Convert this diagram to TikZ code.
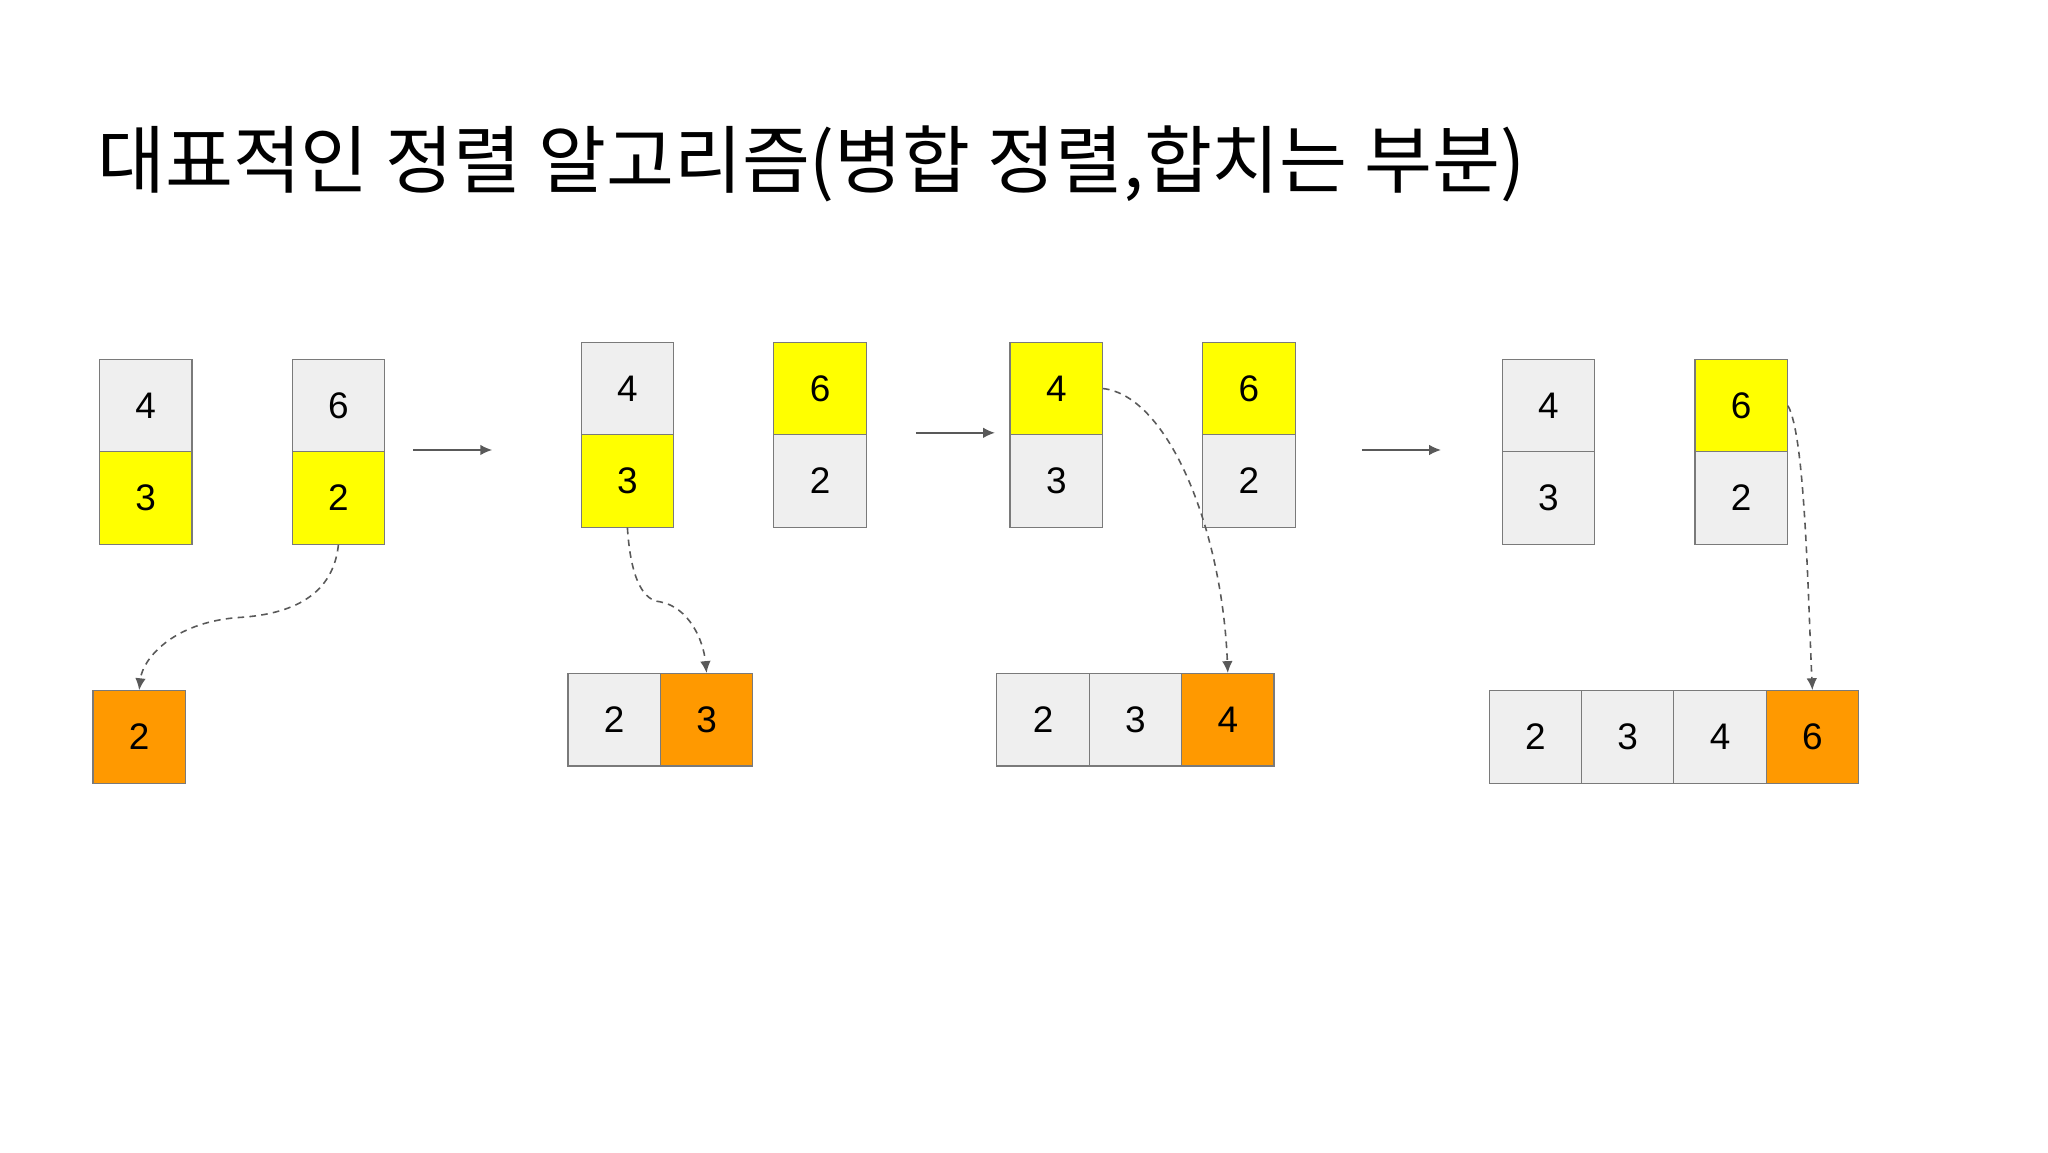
\documentclass[tikz,border=0pt]{standalone}
\usepackage{fontspec}
\setmainfont{Liberation Sans}
\newfontfamily\krfont{Noto Sans CJK KR}
\usetikzlibrary{arrows.meta}
\definecolor{cg}{HTML}{EFEFEF}
\definecolor{cy}{HTML}{FFFF00}
\definecolor{co}{HTML}{FF9900}
\definecolor{ln}{HTML}{595959}
\tikzset{
 cell/.style={draw=ln!80, line width=0.9pt, minimum width=70pt, minimum height=70pt, inner sep=0pt, anchor=north west, font=\fontsize{28}{30}\selectfont},
 gcell/.style={cell, fill=cg},
 ycell/.style={cell, fill=cy},
 ocell/.style={cell, fill=co},
 conn/.style={ln, line width=1.2pt, -{Latex[length=9pt,width=8pt]}},
 dconn/.style={conn, dashed, dash pattern=on 5pt off 4pt}
}
\begin{document}
\begin{tikzpicture}[x=1pt,y=-1pt]
\useasboundingbox (0,0) rectangle (1552,873);
\node[anchor=west, font=\krfont\fontsize{56}{60}\selectfont] (title) at (70,124) {대표적인 정렬 알고리즘(병합 정렬,합치는 부분)};
% group 1
\node[gcell] (a4) at (75,272) {4};
\node[ycell] (a3) at (75,342) {3};
\node[gcell] (a6) at (221,272) {6};
\node[ycell] (a2) at (221,342) {2};
\node[ocell] (ar2) at (70,523) {2};
% group 2
\node[gcell] (b4) at (440,259) {4};
\node[ycell] (b3) at (440,329) {3};
\node[ycell] (b6) at (586,259) {6};
\node[gcell] (b2) at (586,329) {2};
\node[gcell] (br2) at (430,510) {2};
\node[ocell] (br3) at (500,510) {3};
% group 3
\node[ycell] (c4) at (765,259) {4};
\node[gcell] (c3) at (765,329) {3};
\node[ycell] (c6) at (911,259) {6};
\node[gcell] (c2) at (911,329) {2};
\node[gcell] (cr2) at (755,510) {2};
\node[gcell] (cr3) at (825,510) {3};
\node[ocell] (cr4) at (895,510) {4};
% group 4
\node[gcell] (d4) at (1138,272) {4};
\node[gcell] (d3) at (1138,342) {3};
\node[ycell] (d6) at (1284,272) {6};
\node[gcell] (d2) at (1284,342) {2};
\node[gcell] (dr2) at (1128,523) {2};
\node[gcell] (dr3) at (1198,523) {3};
\node[gcell] (dr4) at (1268,523) {4};
\node[ocell] (dr6) at (1338,523) {6};
% step arrows
\coordinate (s1a) at (313,341); \coordinate (s1b) at (373,341);
\coordinate (s2a) at (694,328); \coordinate (s2b) at (754,328);
\coordinate (s3a) at (1032,341); \coordinate (s3b) at (1092,341);
\draw[conn] (s1a) -- (s1b);
\draw[conn] (s2a) -- (s2b);
\draw[conn] (s3a) -- (s3b);
% dashed curves
\draw[dconn] (a2.south) .. controls (252,455) and (215,466) .. (180,468) .. controls (130,472) and (108,500) .. (ar2.north);
\draw[dconn] (b3.south) .. controls (478,440) and (488,455) .. (500,456) .. controls (522,460) and (533,485) .. (br3.north);
\draw[dconn] (c4.east) .. controls (885,300) and (926,400) .. (cr4.north);
\draw[dconn] (d6.east) .. controls (1368,330) and (1370,450) .. (dr6.north);
\end{tikzpicture}
\end{document}
